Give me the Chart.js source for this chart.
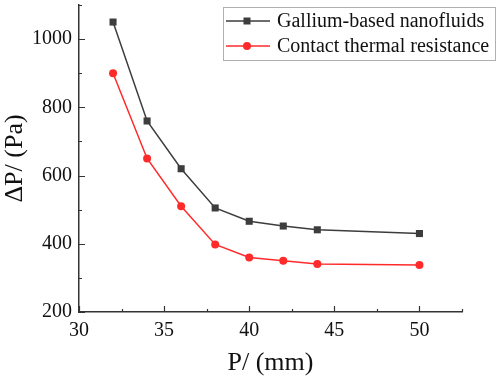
<!DOCTYPE html>
<html>
<head>
<meta charset="utf-8">
<script src="https://cdn.jsdelivr.net/npm/chart.js@4"></script>
<style>
  html, body { margin: 0; padding: 0; background: #fff; }
  #wrap { width: 498px; height: 379px; }
</style>
</head>
<body>
<div id="wrap"><canvas id="myChart" width="498" height="379"></canvas></div>
<script>
// data
const pitch = [32, 34, 36, 38, 40, 42, 44, 50];
const gallium = [1050, 760, 620, 505, 466, 452, 441, 430];
const contact = [900, 650, 510, 398, 360, 350, 341, 338];
const seriesNames = ['Gallium-based nanofluids', 'Contact thermal resistance'];
const xTicks = [30, 35, 40, 45, 50];
const yTicks = [200, 400, 600, 800, 1000];

const serif = "'Liberation Serif', 'Times New Roman', serif";
const axisColor = '#333333';

// inward major/minor ticks like the original plot
const innerTicks = {
    id: 'innerTicks',
    afterDraw(chart) {
        const ctx = chart.ctx;
        const x = chart.scales.x, y = chart.scales.y;
        const area = chart.chartArea;
        ctx.save();
        ctx.strokeStyle = axisColor;
        ctx.lineWidth = 1.2;
        ctx.beginPath();
        for (let v = 30; v <= 52.5; v += 2.5) {
            const px = Math.round(x.getPixelForValue(v)) + 0.5;
            const len = (v % 5 === 0) ? 6 : 3;
            ctx.moveTo(px, area.bottom);
            ctx.lineTo(px, area.bottom - len);
        }
        for (let v = 200; v <= 1100; v += 100) {
            const py = Math.round(y.getPixelForValue(v)) + 0.5;
            const len = (v % 200 === 0) ? 6 : 3;
            ctx.moveTo(area.left, py);
            ctx.lineTo(area.left + len, py);
        }
        ctx.stroke();
        ctx.restore();
    }
};

// boxed legend in the upper right corner
const boxLegend = {
    id: 'boxLegend',
    afterDraw(chart) {
        const ctx = chart.ctx;
        ctx.save();
        ctx.strokeStyle = '#b0b0b0';
        ctx.lineWidth = 1;
        ctx.fillStyle = '#fff';
        ctx.fillRect(223.5, 7.5, 272, 53);
        ctx.strokeRect(223.5, 7.5, 272, 53);
        const rows = [21, 46];
        chart.data.datasets.forEach((ds, i) => {
            const yy = rows[i];
            ctx.strokeStyle = ds.borderColor;
            ctx.lineWidth = 1.5;
            ctx.beginPath();
            ctx.moveTo(226, yy);
            ctx.lineTo(270, yy);
            ctx.stroke();
            ctx.fillStyle = ds.backgroundColor;
            if (ds.pointStyle === 'rect') {
                ctx.fillRect(243.5, yy - 3.5, 7, 7);
            } else {
                ctx.beginPath();
                ctx.arc(247, yy, 4, 0, Math.PI * 2);
                ctx.fill();
            }
            ctx.fillStyle = '#111';
            ctx.font = '20px ' + serif;
            ctx.textBaseline = 'middle';
            ctx.fillText(ds.label, 277, yy + 1);
        });
        ctx.restore();
    }
};

const ctx = document.getElementById('myChart').getContext('2d');
const myChart = new Chart(ctx, {
    type: 'line',
    data: {
        datasets: [{
            label: seriesNames[0],
            data: pitch.map((p, i) => ({ x: p, y: gallium[i] })),
            borderColor: '#3d3d3d',
            backgroundColor: '#3d3d3d',
            borderWidth: 1.5,
            pointStyle: 'rect',
            pointRadius: 5,
            pointBorderWidth: 0,
            tension: 0
        }, {
            label: seriesNames[1],
            data: pitch.map((p, i) => ({ x: p, y: contact[i] })),
            borderColor: '#ff2b2b',
            backgroundColor: '#ff2b2b',
            borderWidth: 1.5,
            pointStyle: 'circle',
            pointRadius: 4,
            pointBorderWidth: 0,
            tension: 0
        }]
    },
    options: {
        responsive: false,
        animation: false,
        layout: { padding: { left: 0, right: 36, top: 4, bottom: 0 } },
        plugins: { legend: { display: false }, tooltip: { enabled: false } },
        scales: {
            x: {
                type: 'linear',
                min: 30,
                max: 52.5,
                afterFit(scale) {
                    scale.height = 67;
                    scale.paddingLeft = 0;
                    scale.paddingRight = 0;
                },
                afterBuildTicks(scale) { scale.ticks = xTicks.map(v => ({ value: v })); },
                grid: { display: true, drawOnChartArea: false, drawTicks: false },
                border: { display: true, color: axisColor, width: 1.5 },
                ticks: {
                    color: '#111',
                    padding: 7,
                    font: { family: serif, size: 20 },
                    callback: v => String(v)
                },
                title: {
                    display: true,
                    text: 'P/ (mm)',
                    color: '#111',
                    padding: { top: 0, bottom: 0 },
                    font: { family: serif, size: 26 }
                }
            },
            y: {
                type: 'linear',
                min: 200,
                max: 1100,
                afterFit(scale) {
                    scale.width = 79;
                    scale.paddingTop = 0;
                    scale.paddingBottom = 0;
                },
                afterBuildTicks(scale) { scale.ticks = yTicks.map(v => ({ value: v })); },
                grid: { display: true, drawOnChartArea: false, drawTicks: false },
                border: { display: true, color: axisColor, width: 1.5 },
                ticks: {
                    color: '#111',
                    padding: 7,
                    font: { family: serif, size: 20 },
                    callback: v => String(v)
                },
                title: {
                    display: true,
                    text: 'ΔP/ (Pa)',
                    color: '#111',
                    padding: { top: 0, bottom: 0 },
                    font: { family: serif, size: 26 }
                }
            }
        }
    },
    plugins: [innerTicks, boxLegend]
});
</script>
</body>
</html>
